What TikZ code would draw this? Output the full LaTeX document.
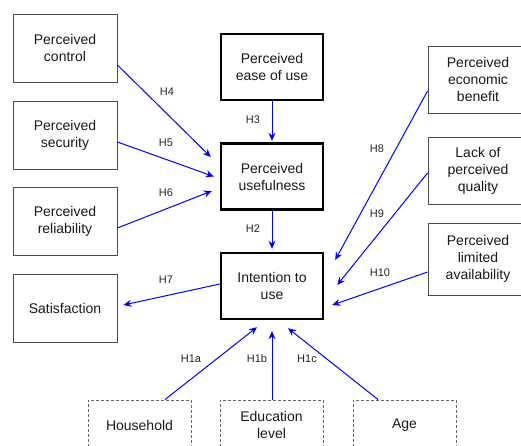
\documentclass[tikz,border=0pt]{standalone}
\usepackage{fontspec}
\setmainfont{Liberation Sans}
\usetikzlibrary{arrows.meta}
\begin{document}
\begin{tikzpicture}[x=1pt,y=-1pt,
  box/.style={draw=black!70,line width=0.9pt,align=center,inner sep=0pt,
    font=\fontsize{14}{17}\selectfont,text=black!90},
  thickbox/.style={draw=black,line width=2.4pt,align=center,inner sep=0pt,
    font=\fontsize{14}{17}\selectfont,text=black!90,minimum width=102pt,minimum height=66pt},
  dbox/.style={draw=black!60,line width=0.9pt,dash pattern=on 3pt off 2pt,align=center,inner sep=0pt,
    font=\fontsize{14}{17}\selectfont,text=black!90,minimum width=103pt,minimum height=50pt},
  arr/.style={draw=blue,line width=1pt,-{Stealth[length=8pt,width=7pt]}},
  lab/.style={font=\fontsize{11}{13}\selectfont,text=black!85,inner sep=0pt}]
\clip (0,0) rectangle (521,446);
\fill[white] (0,0) rectangle (521,446);
% left boxes
\node[box,minimum width=104pt,minimum height=68pt] (ctrl) at (65,48) {Perceived\\control};
\node[box,minimum width=104pt,minimum height=68pt] (sec) at (65,135) {Perceived\\security};
\node[box,minimum width=104pt,minimum height=68pt] (rel) at (65,221) {Perceived\\reliability};
\node[box,minimum width=104pt,minimum height=68pt] (sat) at (65,308) {Satisfaction};
% centre boxes
\node[thickbox] (ease) at (272,67) {Perceived\\ease of use};
\node[thickbox] (use) at (272,176.5) {Perceived\\usefulness};
\node[thickbox] (int) at (272,286) {Intention to\\use};
% right boxes
\node[box,minimum width=100pt,minimum height=67pt] (econ) at (478,79.5) {Perceived\\economic\\benefit};
\node[box,minimum width=100pt,minimum height=67pt] (qual) at (478,170.5) {Lack of\\perceived\\quality};
\node[box,minimum width=100pt,minimum height=72pt] (avail) at (478,259) {Perceived\\limited\\availability};
% bottom dashed boxes
\node[dbox] (house) at (139.5,425) {Household};
\node[dbox] (edu) at (271.5,425) {Education\\level};
\node[dbox] (age) at (404.5,425) {Age};
% arrows
\draw[arr] ([yshift=-17pt]ctrl.east) -- ([xshift=-9pt,yshift=19.5pt]use.west);
\draw[arr] ([yshift=-7pt]sec.east) -- ([xshift=-6pt]use.west);
\draw[arr] ([yshift=-7pt]rel.east) -- ([xshift=-8pt,yshift=-14.5pt]use.west);
\draw[arr,shorten >=1.5pt] (ease.south) -- (use.north);
\draw[arr,shorten >=3pt] (use.south) -- (int.north);
\draw[arr] ([yshift=-11.5pt]econ.west) -- ([xshift=11pt,yshift=26pt]int.east);
\draw[arr] ([yshift=-2.5pt]qual.west) -- ([xshift=13pt,yshift=1pt]int.east);
\draw[arr] ([yshift=-13pt]avail.west) -- ([xshift=8pt,yshift=-19pt]int.east);
\draw[arr] ([yshift=2pt]int.west) -- ([xshift=6pt,yshift=3pt]sat.east);
\draw[arr] ([xshift=25.5pt]house.north) -- ([xshift=-15pt,yshift=-7pt]int.south);
\draw[arr] ([xshift=0.5pt]edu.north) -- ([yshift=-11pt]int.south);
\draw[arr] ([xshift=-26.5pt]age.north) -- ([xshift=16pt,yshift=-8pt]int.south);
% labels
\node[lab] (l4) at (167,92) {H4};
\node[lab] (l5) at (166,143) {H5};
\node[lab] (l6) at (166,193) {H6};
\node[lab] (l3) at (253,120) {H3};
\node[lab] (l2) at (253,229) {H2};
\node[lab] (l8) at (377,149) {H8};
\node[lab] (l9) at (377,214) {H9};
\node[lab] (l10) at (380,273) {H10};
\node[lab] (l7) at (166,280) {H7};
\node[lab] (l1a) at (191,359) {H1a};
\node[lab] (l1b) at (257,359) {H1b};
\node[lab] (l1c) at (307,359) {H1c};
\end{tikzpicture}
\end{document}
